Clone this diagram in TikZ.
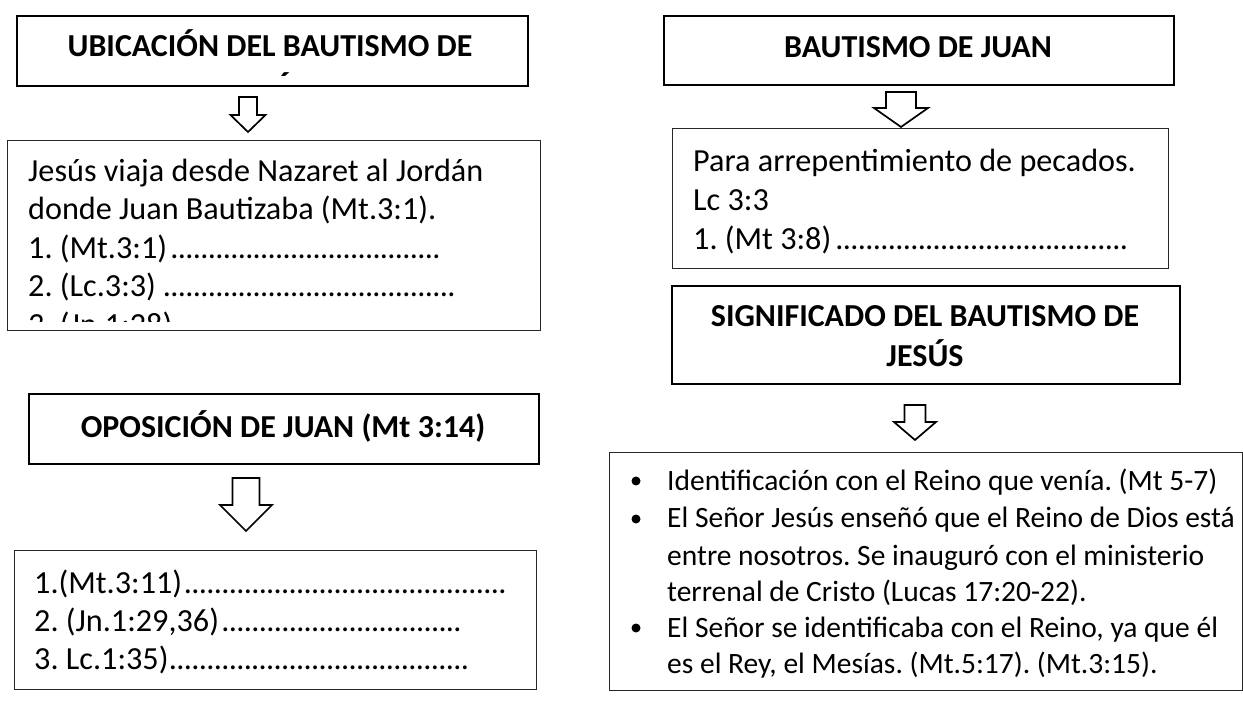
\documentclass[tikz,border=0pt]{standalone}
\usepackage{fontspec}
\setmainfont{Carlito}
\frenchspacing
\newcommand\dl[2]{\makebox[#1][l]{#2\leaders\hbox to 7.5pt{\hss.\hss}\hfill}}
\newcommand\barrow[6]{% cx, shaft half, head half, top, head start, tip
  \draw[blk] ({#1-#2},#4) -- ({#1+#2},#4) -- ({#1+#2},#5) -- ({#1+#3},#5) -- (#1,#6)
    -- ({#1-#3},#5) -- ({#1-#2},#5) -- cycle;}
\tikzset{
  box/.style={rectangle, inner sep=0pt, anchor=north west},
  hbox/.style={box, draw=black, line width=2.2pt},
  tbox/.style={box, draw=black!85, line width=1.4pt},
  hdr/.style={anchor=base, inner sep=0pt, font=\fontsize{32}{40}\selectfont\bfseries},
  ln/.style={anchor=base west, inner sep=0pt, font=\fontsize{32.2}{39}\selectfont},
  lns/.style={anchor=base west, inner sep=0pt, font=\fontsize{29.5}{36}\selectfont},
  blk/.style={draw=black, line width=1.7pt, fill=white, line join=miter},
  bul/.style={circle, fill=black, inner sep=0pt, minimum size=9pt},
}
\begin{document}
\begin{tikzpicture}[x=1pt,y=-1pt]
\useasboundingbox (0,0) rectangle (1243,708);
% ---------- left column ----------
\node[hbox, minimum width=511pt, minimum height=70pt] (b1) at (16,15) {};
\node[hdr] (b1t) at (270,57) {UBICACIÓN DEL BAUTISMO DE};
\begin{scope}
  \clip (16,15) rectangle (527,76);
  \node[hdr] (b1t2) at (270,100) {JESÚS};
\end{scope}
\barrow{248}{9}{17.5}{97}{115}{132}

\node[tbox, minimum width=533pt, minimum height=190pt] (b2) at (7,140) {};
\node[ln] (b2l1) at (28,181.5) {Jesús viaja desde Nazaret al Jordán};
\node[ln] (b2l2) at (28,220) {donde Juan Bautizaba (Mt.3:1).};
\node[ln] (b2l3) at (28,258.5) {\dl{417pt}{1. (Mt.3:1)}};
\node[ln] (b2l4) at (28,297) {\dl{432pt}{2. (Lc.3:3)}};
\begin{scope}
  \clip (7,140) rectangle (540,322);
  \node[ln] (b2l5) at (28,336) {3. (Jn.1:28)};
\end{scope}

\node[hbox, minimum width=510pt, minimum height=70pt] (b3) at (28,393) {};
\node[hdr] (b3t) at (283,438) {OPOSICIÓN DE JUAN (Mt 3:14)};
\barrow{246}{13.5}{26}{478}{505}{531}

\node[tbox, minimum width=522pt, minimum height=139pt] (b4) at (14,550) {};
\node[ln] (b4l1) at (34,593) {\dl{476pt}{1.(Mt.3:11)}};
\node[ln] (b4l2) at (34,631.5) {\dl{434pt}{2. (Jn.1:29,36)}};
\node[ln] (b4l3) at (34,669) {\dl{442pt}{3. Lc.1:35)}};

% ---------- right column ----------
\node[hbox, minimum width=510pt, minimum height=69pt] (r1) at (663,15) {};
\node[hdr] (r1t) at (918,58) {BAUTISMO DE JUAN};
\barrow{901}{15}{27}{92}{108}{127}

\node[tbox, minimum width=496pt, minimum height=140pt] (r2) at (672,128) {};
\node[ln] (r2l1) at (693,172) {Para arrepentimiento de pecados.};
\node[ln] (r2l2) at (693,211) {Lc 3:3};
\node[ln] (r2l3) at (693,250) {\dl{441pt}{1. (Mt 3:8)}};

\node[hbox, minimum width=508pt, minimum height=98pt] (r3) at (671,285) {};
\node[hdr] (r3t1) at (925,327) {SIGNIFICADO DEL BAUTISMO DE};
\node[hdr] (r3t2) at (925,367) {JESÚS};
\barrow{915}{10.5}{21}{405}{422}{440}

\node[tbox, minimum width=633pt, minimum height=238pt] (r4) at (609,452) {};
\node[bul] (u1) at (636,481) {};
\node[bul] (u2) at (636,519) {};
\node[bul] (u3) at (636,628) {};
\node[lns] (r4l1) at (667,490) {Identificación con el Reino que venía. (Mt 5-7)};
\node[lns] (r4l2) at (667,528) {El Señor Jesús enseñó que el Reino de Dios está};
\node[lns] (r4l3) at (667,565) {entre nosotros. Se inauguró con el ministerio};
\node[lns] (r4l4) at (667,601) {terrenal de Cristo (Lucas 17:20-22).};
\node[lns] (r4l5) at (667,637) {El Señor se identificaba con el Reino, ya que él};
\node[lns] (r4l6) at (667,673) {es el Rey, el Mesías. (Mt.5:17). (Mt.3:15).};
\end{tikzpicture}
\end{document}
